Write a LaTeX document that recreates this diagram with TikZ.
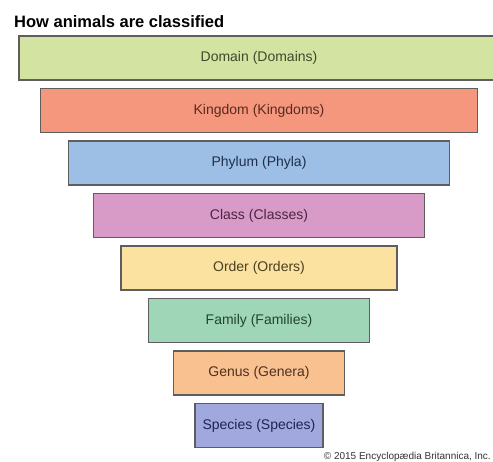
\documentclass[tikz,border=0pt]{standalone}
\usepackage{fontspec}
\setmainfont{Liberation Sans}
\definecolor{cDom}{HTML}{D2E3A2}
\definecolor{tDom}{HTML}{3E4A2C}
\definecolor{cKin}{HTML}{F4977C}
\definecolor{tKin}{HTML}{5A2A1E}
\definecolor{cPhy}{HTML}{9DBFE6}
\definecolor{tPhy}{HTML}{1F2F4A}
\definecolor{cCla}{HTML}{D89BC8}
\definecolor{tCla}{HTML}{4A2543}
\definecolor{cOrd}{HTML}{FCE2A0}
\definecolor{tOrd}{HTML}{4A3F22}
\definecolor{cFam}{HTML}{9FD6B8}
\definecolor{tFam}{HTML}{21452F}
\definecolor{cGen}{HTML}{F9C090}
\definecolor{tGen}{HTML}{4D3220}
\definecolor{cSpe}{HTML}{A0A8DD}
\definecolor{tSpe}{HTML}{1F2552}
\definecolor{edge}{HTML}{5E5E5E}
\tikzset{
  tier/.style={draw=edge, line width=1.3pt, minimum height=44pt, inner sep=0pt, font=\fontsize{14}{16}\selectfont},
}
\begin{document}
\begin{tikzpicture}[x=1pt,y=-1pt]
\useasboundingbox (0,0) rectangle (493,461);
\clip (0,0) rectangle (493,461);
\fill[white] (0,0) rectangle (493,461);
\node[anchor=base west, font=\bfseries\fontsize{16.5}{18}\selectfont, inner sep=0pt] (title) at (14,27) {How animals are classified};
\node[tier, fill=cDom, text=tDom, minimum width=480pt] (domain) at (259,58) {Domain (Domains)};
\node[tier, fill=cKin, text=tKin, minimum width=437pt] (kingdom) at (259,110.5) {Kingdom (Kingdoms)};
\node[tier, fill=cPhy, text=tPhy, minimum width=381pt] (phylum) at (259,163) {Phylum (Phyla)};
\node[tier, fill=cCla, text=tCla, minimum width=331pt] (class) at (259,215.5) {Class (Classes)};
\node[tier, fill=cOrd, text=tOrd, minimum width=276pt] (order) at (259,268) {Order (Orders)};
\node[tier, fill=cFam, text=tFam, minimum width=221pt] (family) at (259,320.5) {Family (Families)};
\node[tier, fill=cGen, text=tGen, minimum width=171pt] (genus) at (259,373) {Genus (Genera)};
\node[tier, fill=cSpe, text=tSpe, minimum width=128pt] (species) at (259,425.5) {Species (Species)};
\node[anchor=base east, font=\fontsize{10}{12}\selectfont, inner sep=0pt, text=black!80] (copy) at (491,459) {© 2015 Encyclopædia Britannica, Inc.};
\end{tikzpicture}
\end{document}
